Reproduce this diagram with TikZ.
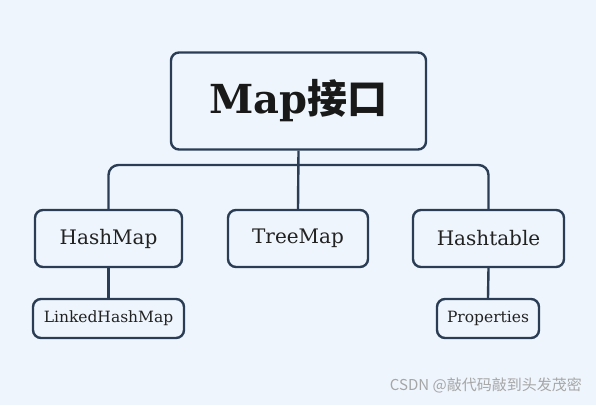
\documentclass[tikz,border=0pt]{standalone}
\usepackage{fontspec}
\setmainfont{DejaVu Serif}
\newfontfamily\cjk{Noto Sans CJK SC}
\newfontfamily\wmfont{Noto Sans CJK SC}
\begin{document}
\begin{tikzpicture}[x=1pt,y=-1pt,
  box/.style={draw=lineC,line width=2.4pt,rounded corners=8pt,fill=bgC,inner sep=0pt,text=txtC},
  conn/.style={draw=lineC,line width=2.4pt,rounded corners=10pt}]
\definecolor{bgC}{HTML}{EEF5FD}
\definecolor{lineC}{HTML}{2A3D55}
\definecolor{txtC}{HTML}{222222}
\fill[bgC] (0,0) rectangle (596,405);
\useasboundingbox (0,0) rectangle (596,405);
\node[box,minimum width=255pt,minimum height=97pt] (map) at (298.5,101) {\fontsize{40}{40}\selectfont\bfseries\color{black!90} Map{\cjk\bfseries 接口}};
\node[box,minimum width=147pt,minimum height=57pt] (hm) at (108.5,238.5) {\fontsize{20}{20}\selectfont HashMap};
\node[box,minimum width=140pt,minimum height=57pt] (tm) at (298,238.5) {\fontsize{20}{20}\selectfont TreeMap};
\node[box,minimum width=151pt,minimum height=57pt] (ht) at (488.5,238.5) {\fontsize{20}{20}\selectfont Hashtable};
\node[box,minimum width=151pt,minimum height=39pt] (lhm) at (108.5,318.5) {\fontsize{15.5}{15.5}\selectfont LinkedHashMap};
\node[box,minimum width=102pt,minimum height=39pt] (pr) at (488,318.5) {\fontsize{15.5}{15.5}\selectfont Properties};
\coordinate (j) at (298,165);
\draw[conn] (map.south) -- (tm.north);
\draw[conn] (hm.north) |- (j) -| (ht.north);
\draw[conn] (hm.south) -- (lhm.north);
\draw[conn] (ht.south) -- (pr.north);
\node[anchor=east,text=gray!70,inner sep=0pt] (wm) at (582,385) {\fontsize{15}{15}\selectfont\wmfont CSDN @敲代码敲到头发茂密};
\end{tikzpicture}
\end{document}
